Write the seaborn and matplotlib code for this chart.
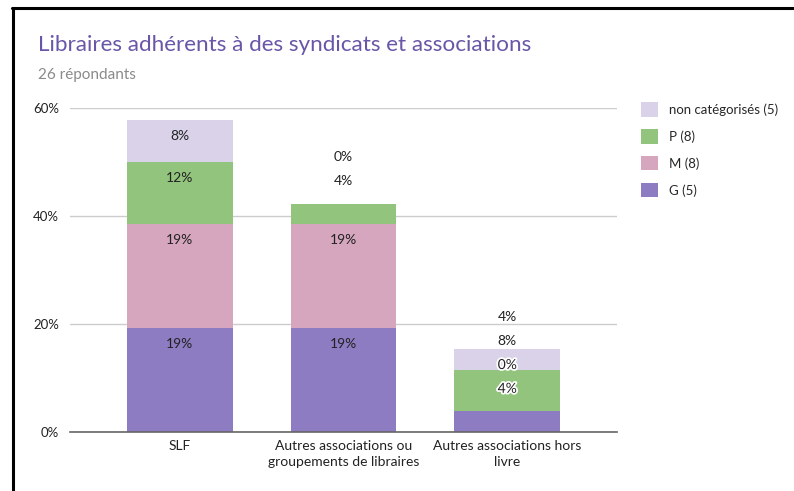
import numpy as np
import pandas as pd
import matplotlib
matplotlib.use("Agg")
import matplotlib.pyplot as plt
import matplotlib.patheffects as pe
from matplotlib.patches import Patch
from matplotlib.lines import Line2D
import seaborn as sns

# ---- data ----
categories = ["SLF", "Autres associations ou\ngroupements de libraires", "Autres associations hors\nlivre"]
series_names = ["G (5)", "M (8)", "P (8)", "non catégorisés (5)"]
g_vals = [19.23, 19.23, 3.85]
m_vals = [19.23, 19.23, 0.0]
p_vals = [11.54, 3.85, 7.69]
nc_vals = [7.69, 0.0, 3.85]
g_labels = ["19%", "19%", "4%"]
m_labels = ["19%", "19%", "0%"]
p_labels = ["12%", "4%", "8%"]
nc_labels = ["8%", "0%", "4%"]
y_ticks = [0, 20, 40, 60]
y_tick_labels = ["0%", "20%", "40%", "60%"]

# ---- layout / style ----
colors = ["#8e7cc3", "#d5a6bd", "#93c47d", "#d9d2e9"]
# label vertical positions (percent units) as Google Charts laid them out
label_y = {
    0: [16.3, 35.6, 47.0, 54.8],
    1: [16.3, 35.6, 46.5, 50.9],
    2: [8.0, 12.4, 16.9, 21.3],
}
halo = {2: [True, True, False, False]}

sns.set_theme(style="white")
plt.rcParams["font.family"] = ["Lato", "DejaVu Sans"]

fig = plt.figure(figsize=(7.94, 4.91), dpi=100)
ax = fig.add_axes([70 / 794, 1 - 432 / 491, (617 - 70) / 794, (432 - 108) / 491])

series = [g_vals, m_vals, p_vals, nc_vals]
labels = [g_labels, m_labels, p_labels, nc_labels]
cum = np.cumsum(np.array(series), axis=0)

df = pd.DataFrame({"cat": categories})
for i in range(3, -1, -1):
    df["v"] = cum[i]
    sns.barplot(data=df, x="cat", y="v", color=colors[i], saturation=1,
                width=0.646, ax=ax, edgecolor="none", linewidth=0)

for ci in range(len(categories)):
    for si in range(4):
        txt = labels[si][ci]
        y = label_y[ci][si]
        t = ax.text(ci, y, txt, ha="center", va="center", fontsize=10, color="#222222")
        if halo.get(ci, [False] * 4)[si]:
            t.set_path_effects([pe.withStroke(linewidth=2.5, foreground="white")])

ax.set_ylim(0, 60)
ax.set_xlim(-0.67, 2.67)
ax.set_yticks(y_ticks)
ax.set_yticklabels(y_tick_labels)
ax.set_xlabel("")
ax.set_ylabel("")
ax.grid(axis="y", color="#cccccc", linewidth=1)
ax.set_axisbelow(True)
for s in ["top", "right", "left"]:
    ax.spines[s].set_visible(False)
ax.spines["bottom"].set_color("#666666")
ax.spines["bottom"].set_linewidth(1.2)
ax.spines["bottom"].set_zorder(5)
ax.tick_params(axis="y", length=0, labelsize=9.5, labelcolor="#222222", pad=8)
ax.tick_params(axis="x", length=0, labelsize=10, labelcolor="#222222", pad=6)
for lab in ax.get_xticklabels():
    lab.set_linespacing(1.4)

fig.text(38 / 794, 1 - 45 / 491, "Libraires adhérents à des syndicats et associations",
         fontsize=16.2, color="#6a56a8", va="center", ha="left")
fig.text(38 / 794, 1 - 75 / 491, "26 répondants", fontsize=11, color="#8a8a8a",
         va="center", ha="left")

handles = [Patch(facecolor=colors[i], edgecolor="none", label=series_names[i]) for i in range(3, -1, -1)]
fig.legend(handles=handles, loc="upper left", bbox_to_anchor=(636 / 794, 1 - 97 / 491),
           frameon=False, fontsize=9.5, handlelength=1.3, handleheight=1.3,
           labelspacing=0.95, handletextpad=0.8, borderaxespad=0)

# frame lines of the screenshot
fig.add_artist(Line2D([12 / 794, 1], [1 - 8 / 491, 1 - 8 / 491], transform=fig.transFigure,
                      color="black", linewidth=2.2))
fig.add_artist(Line2D([13 / 794, 13 / 794], [0, 1 - 8 / 491], transform=fig.transFigure,
                      color="black", linewidth=2.2))

fig.savefig("out.png", dpi=100)
